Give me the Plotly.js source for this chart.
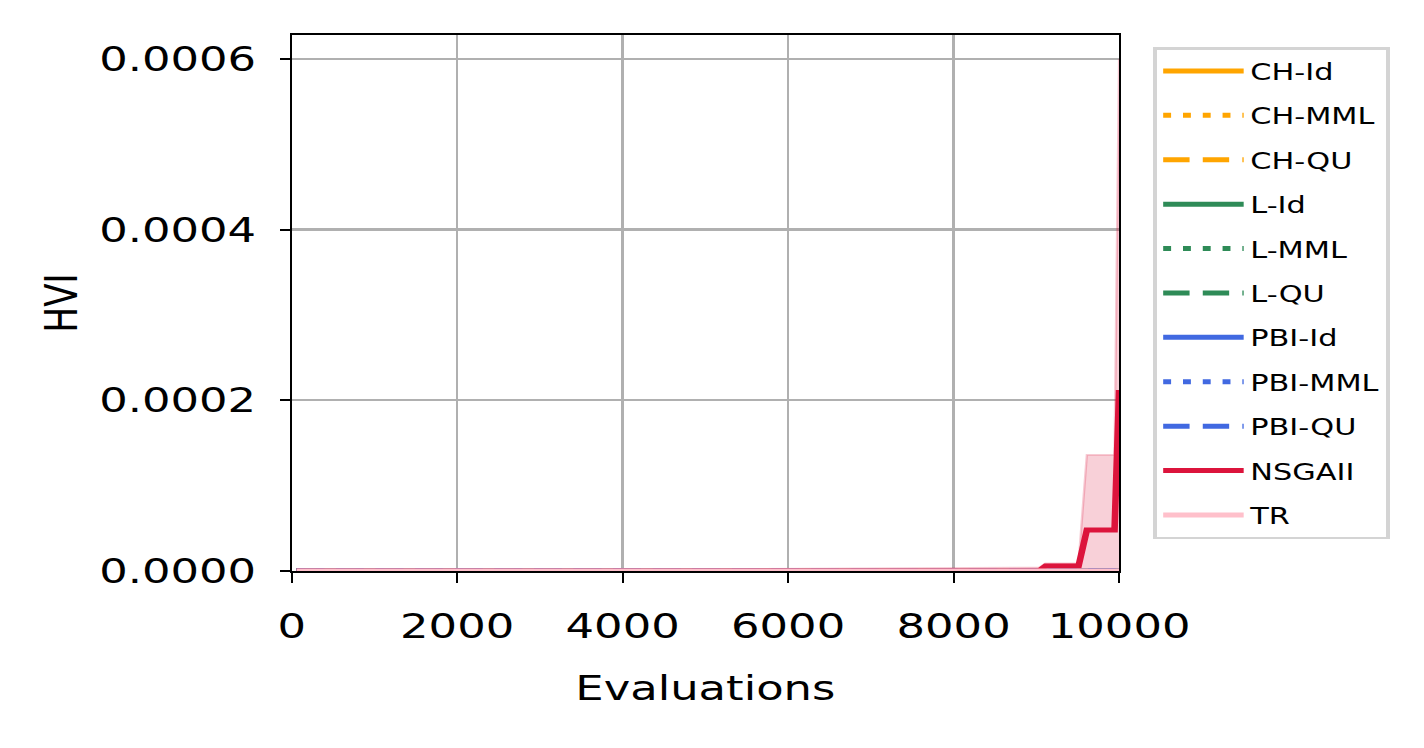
<!DOCTYPE html>
<html>
<head>
<meta charset="utf-8">
<script src="https://cdn.plot.ly/plotly-3.0.1.min.js"></script>
<style>
html,body{margin:0;padding:0;background:#fff;overflow:hidden;}
#chart{width:1079px;height:748px;transform:scaleX(1.3197);transform-origin:0 0;}
</style>
</head>
<body>
<div id="chart"></div>
<script>
// ---- data ----
const evaluations = [60, 9030, 9110, 9510, 9610, 9945, 10000];
const chId   = [0, 0, 0, 0, 0, 0, 0];
const chMml  = [0, 0, 0, 0, 0, 0, 0];
const chQu   = [0, 0, 0, 0, 0, 0, 0];
const lId    = [0, 0, 0, 0, 0, 0, 0];
const lMml   = [0, 0, 0, 0, 0, 0, 0];
const lQu    = [0, 0, 0, 0, 0, 0, 0];
const pbiId  = [0, 0, 0, 0, 0, 0, 0];
const pbiMml = [0, 0, 0, 0, 0, 0, 0];
const pbiQu  = [0, 0, 0, 0, 0, 0, 0];
const nsgaiiMean  = [0, 0, 6.0e-6, 6.0e-6, 4.8e-5, 4.8e-5, 2.12e-4];
const nsgaiiUpper = [0, 4.0e-6, 9.0e-6, 9.0e-6, 1.36e-4, 1.36e-4, 6.0e-4];
const nsgaiiLower = [0, 0, 0, 0, 0, 0, 0];
const tr     = [0, 0, 0, 0, 0, 0, 0];

const seriesNames  = ["CH-Id","CH-MML","CH-QU","L-Id","L-MML","L-QU","PBI-Id","PBI-MML","PBI-QU","NSGAII","TR"];
const seriesValues = [chId, chMml, chQu, lId, lMml, lQu, pbiId, pbiMml, pbiQu, nsgaiiMean, tr];
const seriesColors = ["#FFA500","#FFA500","#FFA500","#2E8B57","#2E8B57","#2E8B57","#4169E1","#4169E1","#4169E1","#DC143C","#FFC0CB"];
const seriesDash   = ["solid","6px,9px","20px,10px","solid","6px,9px","20px,10px","solid","6px,9px","20px,10px","solid","solid"];

const xTicks = [0, 2000, 4000, 6000, 8000, 10000];
const yTicks = [0, 0.0002, 0.0004, 0.0006];

const FONT = "DejaVu Sans";
const traces = [];

seriesNames.forEach((name, i) => {
  if (name === "NSGAII") {
    traces.push({x: evaluations, y: nsgaiiLower, mode: "lines", line: {width: 0, color: "rgba(220,20,60,0)"},
      showlegend: false, hoverinfo: "skip", legendgroup: "b"});
    traces.push({x: evaluations, y: nsgaiiUpper, mode: "lines", fill: "tonexty",
      fillcolor: "rgba(220,20,60,0.2)", line: {width: 1.8, color: "rgba(220,20,60,0.22)"},
      showlegend: false, hoverinfo: "skip", legendgroup: "b"});
  }
  traces.push({
    x: evaluations,
    y: seriesValues[i],
    name: name,
    mode: "lines",
    legendgroup: "g" + i,
    line: {color: seriesColors[i], dash: seriesDash[i], width: 5}
  });
});

const layout = {
  width: 1079, height: 748,
  margin: {l: 220.5, r: 231.1, t: 35, b: 177},
  paper_bgcolor: "#fff", plot_bgcolor: "#fff",
  font: {family: FONT, color: "#000", size: 34},
  showlegend: true,
  legend: {
    x: 1.0413, xanchor: "left", y: 0.9776, yanchor: "top",
    bordercolor: "#d4d4d4", borderwidth: 2.5, bgcolor: "#fff",
    font: {family: FONT, size: 23, color: "#000"},
    tracegroupgap: 11.5, itemwidth: 61
  },
  xaxis: {
    range: [0, 10000], tickvals: xTicks, ticktext: xTicks.map(String),
    showgrid: true, gridcolor: "#b0b0b0", gridwidth: 2,
    showline: true, linecolor: "#000", linewidth: 2.2, mirror: true,
    ticks: "outside", ticklen: 10, tickwidth: 1.6, tickcolor: "#000",
    ticklabelstandoff: 14,
    zeroline: false,
    tickfont: {family: FONT, size: 34, color: "#000"},
    title: {text: "Evaluations", font: {family: FONT, size: 34, color: "#000"}, standoff: 31}
  },
  yaxis: {
    range: [0, 0.000628], tickvals: yTicks, ticktext: yTicks.map(v => v.toFixed(4)),
    showgrid: true, gridcolor: "#b0b0b0", gridwidth: 2.4,
    showline: true, linecolor: "#000", linewidth: 1.6, mirror: true,
    ticks: "outside", ticklen: 7.5, tickwidth: 2.2, tickcolor: "#000",
    ticklabelstandoff: 11,
    zeroline: false,
    tickfont: {family: FONT, size: 34, color: "#000"},
    title: {text: "HVI", font: {family: FONT, size: 34, color: "#000"}, standoff: 6}
  }
};

Plotly.newPlot("chart", traces, layout, {displayModeBar: false, staticPlot: true});
</script>
</body>
</html>
